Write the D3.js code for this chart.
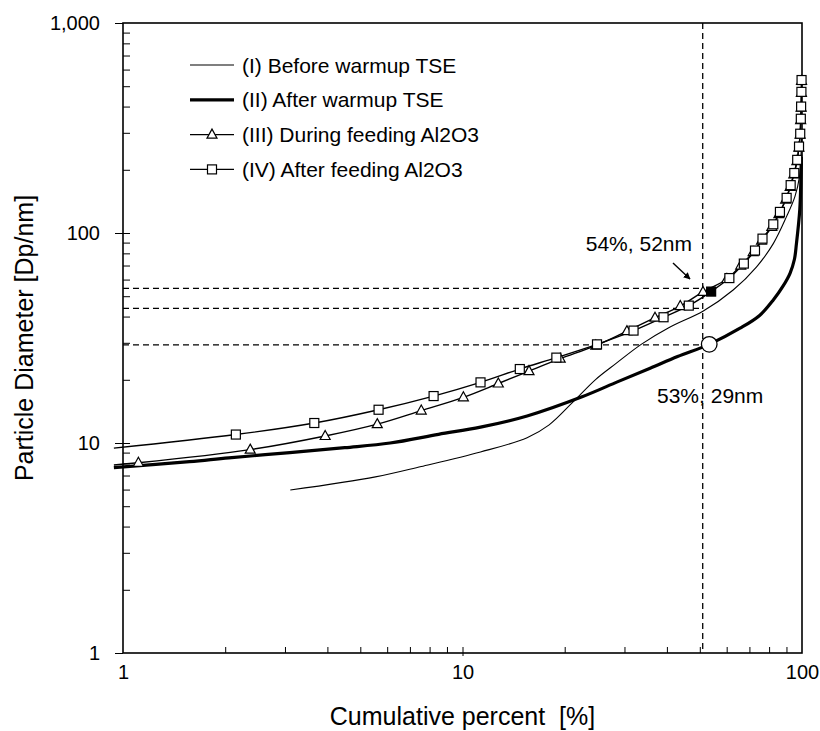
<!DOCTYPE html>
<html>
<head>
<meta charset="utf-8">
<script src="https://cdn.jsdelivr.net/npm/d3@7"></script>
<style>
  body { margin: 0; background: #fff; }
  text { font-family: "Liberation Sans", Arial, sans-serif; fill: #000; }
</style>
</head>
<body>
<div id="chart"></div>
<script>
// series data: cumulative percent [%] and particle diameter [nm]
var beforePct = [3.11, 5.54, 7.56, 11.3, 15.5, 18.0, 21.1, 24.7, 28.4, 33.6, 40.5, 51.2, 62.7, 73.5, 82.3, 90.1, 95.3, 98.3, 99.3, 99.8];
var beforeDia = [5.97, 6.9, 7.73, 9.06, 10.6, 12.2, 15.6, 20.1, 24.0, 29.5, 35.4, 42.5, 53.5, 69, 89, 120, 149, 185, 231, 280];

var afterPct = [0.94, 1.57, 2.05, 3.1, 4.5, 6.12, 8.5, 11.3, 15.5, 22.5, 28.7, 35.7, 43, 53.3, 65.7, 75, 82.3, 88, 92.2, 95, 96.3, 98.5, 99.3, 99.6];
var afterDia = [7.63, 8.15, 8.5, 9.0, 9.5, 10.0, 11.0, 11.9, 13.45, 16.6, 19.6, 22.7, 25.8, 29.5, 35.2, 40.5, 48, 56, 64.3, 75, 89, 129, 185, 230];

var duringPct = [0.94, 1.11, 2.37, 3.94, 5.61, 7.56, 10.06, 12.75, 15.7, 19.4, 24.7, 30.5, 36.9, 43.8, 51.1, 60.1, 66.0, 71.8, 76.0, 81.5, 85.5, 89.5, 92.3, 94.6, 96.6, 97.9, 98.7, 99.1, 99.4, 99.6, 99.7];
var duringDia = [7.86, 8.05, 9.3, 10.8, 12.3, 14.27, 16.5, 19.2, 22.0, 25.2, 29.1, 34.1, 39.5, 44.9, 52.4, 60.4, 70, 81, 92, 107, 123, 144, 166, 190, 220, 255, 294, 345, 395, 465, 530];

var feedPct = [0.94, 2.15, 3.66, 5.66, 8.22, 11.3, 14.75, 18.9, 24.9, 31.9, 39.1, 46.4, 54.0, 61.1, 67.4, 72.7, 76.5, 82.3, 86.1, 90.1, 92.6, 94.9, 96.8, 98.0, 98.8, 99.2, 99.4, 99.6, 99.7];
var feedDia = [9.45, 10.97, 12.45, 14.40, 16.73, 19.44, 22.5, 25.5, 29.5, 34.3, 39.7, 45.1, 52.6, 61.0, 71.5, 82.5, 94, 110, 126, 147, 169, 193, 223, 258, 297, 350, 400, 470, 535];

// reference lines and highlighted points
var refPct = 51.0;
var refDia = [54.5, 43.8, 29.3];
var circlePoint = [53.3, 29.5];
var filledPoint = [54.0, 52.6];

var xTicks = [1, 10, 100];
var yTicks = [1, 10, 100, 1000];

var legendNames = ["(I) Before warmup TSE", "(II) After warmup TSE", "(III) During feeding Al2O3", "(IV) After feeding Al2O3"];

var svgWidth = 820;
var svgHeight = 731;
var margin = { top: 23, right: 18, bottom: 78, left: 123 };
var width = svgWidth - margin.left - margin.right;
var height = svgHeight - margin.top - margin.bottom;

var svg = d3.select("#chart").append("svg")
  .attr("width", svgWidth)
  .attr("height", svgHeight);

svg.append("defs").append("marker")
  .attr("id", "arrow")
  .attr("viewBox", "0 0 10 10")
  .attr("refX", 9).attr("refY", 5)
  .attr("markerWidth", 7).attr("markerHeight", 7)
  .attr("markerUnits", "userSpaceOnUse")
  .attr("orient", "auto")
  .append("path")
  .attr("d", "M0,0L10,5L0,10Z")
  .attr("fill", "#000");

var chartGroup = svg.append("g")
  .attr("transform", `translate(${margin.left}, ${margin.top})`);

var x = d3.scaleLog().domain([1, 100]).range([0, width]);
var y = d3.scaleLog().domain([1, 1000]).range([height, 0]);

// minor ticks
var xMinor = [];
[1, 10].forEach(function(b) { for (var k = 2; k <= 9; k++) xMinor.push(b * k); });
var yMinor = [];
[1, 10, 100].forEach(function(b) { for (var k = 2; k <= 9; k++) yMinor.push(b * k); });

// x axis labels
chartGroup.append("g")
  .attr("transform", `translate(0, ${height})`)
  .call(d3.axisBottom(x).tickValues(xTicks).tickFormat(d3.format("d")).tickSize(0).tickPadding(26))
  .call(function(g) { g.select(".domain").remove(); })
  .selectAll("text").style("font-size", "20px").attr("dy", "0");

// x inner ticks
chartGroup.append("g")
  .attr("transform", `translate(0, ${height})`)
  .call(d3.axisTop(x).tickValues(xMinor.concat([10])).tickFormat("").tickSizeInner(6).tickSizeOuter(0))
  .call(function(g) { g.select(".domain").remove(); })
  .selectAll("line").attr("stroke-width", 1);

chartGroup.append("g")
  .attr("transform", `translate(0, ${height})`)
  .call(d3.axisBottom(x).tickValues([10]).tickFormat("").tickSizeInner(3).tickSizeOuter(0))
  .call(function(g) { g.select(".domain").remove(); });

// y axis labels with outward major ticks
chartGroup.append("g")
  .call(d3.axisLeft(y).tickValues(yTicks).tickFormat(d3.format(",")).tickSizeInner(8).tickSizeOuter(0).tickPadding(15))
  .call(function(g) { g.select(".domain").remove(); })
  .selectAll("text").style("font-size", "20px");

// y inner ticks
chartGroup.append("g")
  .call(d3.axisRight(y).tickValues(yMinor.concat([10, 100])).tickFormat("").tickSizeInner(7).tickSizeOuter(0))
  .call(function(g) { g.select(".domain").remove(); });

chartGroup.selectAll(".tick line").attr("stroke", "#000");

// frame
chartGroup.append("rect")
  .attr("width", width).attr("height", height)
  .attr("fill", "none").attr("stroke", "#000").attr("stroke-width", 1.6);

// dashed reference lines
chartGroup.append("line")
  .attr("x1", x(refPct)).attr("x2", x(refPct))
  .attr("y1", 0).attr("y2", height)
  .attr("stroke", "#000").attr("stroke-width", 1.3).attr("stroke-dasharray", "6,4");

chartGroup.selectAll(".hdash")
  .data(refDia).enter()
  .append("line")
  .attr("class", "hdash")
  .attr("x1", 0).attr("x2", x(refPct))
  .attr("y1", d => y(d)).attr("y2", d => y(d))
  .attr("stroke", "#000").attr("stroke-width", 1.3).attr("stroke-dasharray", "6,4");

function toPoints(pct, dia) {
  return pct.map(function(p, i) { return [p, dia[i]]; });
}

var line = d3.line()
  .x(d => x(d[0]))
  .y(d => y(d[1]))
  .curve(d3.curveCatmullRom.alpha(0.5));

var before = toPoints(beforePct, beforeDia);
var after = toPoints(afterPct, afterDia);
var during = toPoints(duringPct, duringDia);
var feed = toPoints(feedPct, feedDia);

chartGroup.append("path").datum(before)
  .attr("d", line).attr("fill", "none").attr("stroke", "#000").attr("stroke-width", 1.1);

chartGroup.append("path").datum(after)
  .attr("d", line).attr("fill", "none").attr("stroke", "#000").attr("stroke-width", 3.2);

chartGroup.append("path").datum(during)
  .attr("d", line).attr("fill", "none").attr("stroke", "#000").attr("stroke-width", 1.4);

chartGroup.append("path").datum(feed)
  .attr("d", line).attr("fill", "none").attr("stroke", "#000").attr("stroke-width", 1.4);

var triPath = "M0,-5.5L5,3.5L-5,3.5Z";

chartGroup.selectAll(".tri")
  .data(during.slice(1)).enter()
  .append("path")
  .attr("class", "tri")
  .attr("d", triPath)
  .attr("transform", d => `translate(${x(d[0])}, ${y(d[1])})`)
  .attr("fill", "#fff").attr("stroke", "#000").attr("stroke-width", 1.2);

chartGroup.selectAll(".sq")
  .data(feed.slice(1)).enter()
  .append("rect")
  .attr("class", "sq")
  .attr("x", d => x(d[0]) - 4.5)
  .attr("y", d => y(d[1]) - 4.5)
  .attr("width", 9).attr("height", 9)
  .attr("fill", d => (d[0] === filledPoint[0] && d[1] === filledPoint[1]) ? "#000" : "#fff")
  .attr("stroke", "#000").attr("stroke-width", 1.2);

chartGroup.append("circle")
  .attr("cx", x(circlePoint[0])).attr("cy", y(circlePoint[1]))
  .attr("r", 7.8)
  .attr("fill", "#fff").attr("stroke", "#000").attr("stroke-width", 1.3);

// annotations
svg.append("text")
  .attr("x", 692).attr("y", 251)
  .attr("text-anchor", "end")
  .style("font-size", "21px")
  .text("54%, 52nm");

svg.append("line")
  .attr("x1", 673).attr("y1", 263)
  .attr("x2", 690).attr("y2", 279)
  .attr("stroke", "#000").attr("stroke-width", 1.4)
  .attr("marker-end", "url(#arrow)");

svg.append("text")
  .attr("x", 657).attr("y", 403)
  .style("font-size", "21px")
  .text("53%, 29nm");

// legend
var legend = svg.append("g")
  .attr("transform", "translate(190, 65)");

var rowGap = 34.8;
legendNames.forEach(function(name, i) {
  var row = legend.append("g").attr("transform", `translate(0, ${i * rowGap})`);
  row.append("line")
    .attr("x1", 0).attr("x2", 44)
    .attr("y1", 0).attr("y2", 0)
    .attr("stroke", "#000")
    .attr("stroke-width", i === 1 ? 3.2 : (i === 0 ? 1.1 : 1.4));
  if (i === 2) {
    row.append("path").attr("d", triPath).attr("transform", "translate(22, 0)")
      .attr("fill", "#fff").attr("stroke", "#000").attr("stroke-width", 1.2);
  }
  if (i === 3) {
    row.append("rect").attr("x", 17.5).attr("y", -4.5).attr("width", 9).attr("height", 9)
      .attr("fill", "#fff").attr("stroke", "#000").attr("stroke-width", 1.2);
  }
  row.append("text")
    .attr("x", 52).attr("y", 7.5)
    .style("font-size", "21px")
    .text(name);
});

// axis titles
svg.append("text")
  .attr("x", margin.left + width / 2).attr("y", 725)
  .attr("text-anchor", "middle")
  .style("font-size", "25px")
  .text("Cumulative percent  [%]")
  .attr("xml:space", "preserve")
  .style("white-space", "pre");

svg.append("text")
  .attr("transform", `translate(33, ${margin.top + height / 2}) rotate(-90)`)
  .attr("text-anchor", "middle")
  .style("font-size", "25px")
  .text("Particle Diameter [Dp/nm]");
</script>
</body>
</html>
